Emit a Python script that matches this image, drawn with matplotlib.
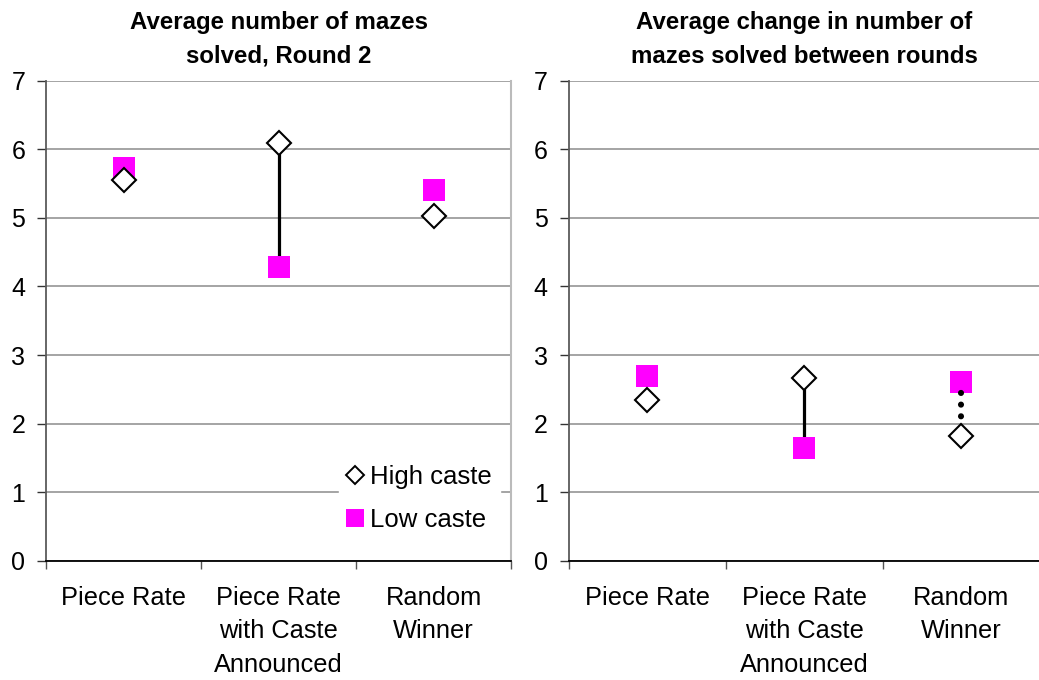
import matplotlib.pyplot as plt
from matplotlib.lines import Line2D

plt.rcParams['font.family'] = ['Liberation Sans', 'DejaVu Sans']

# Data
categories = ['Piece Rate', 'Piece Rate\nwith Caste\nAnnounced', 'Random\nWinner']
round2_high = [5.55, 6.09, 5.02]
round2_low = [5.72, 4.29, 5.40]
change_high = [2.35, 2.67, 1.82]
change_low = [2.70, 1.65, 2.61]
titles = ['Average number of mazes\nsolved, Round 2',
          'Average change in number of\nmazes solved between rounds']
yticks = [0, 1, 2, 3, 4, 5, 6, 7]

magenta = '#FF00FF'
fig = plt.figure(figsize=(10.39, 6.80), dpi=100)
ax1 = fig.add_axes([0.04475, 0.1754, 0.4471, 0.7059])
ax2 = fig.add_axes([0.5476, 0.1754, 0.4533, 0.7059])

x = list(range(len(categories)))


def style_axes(ax, title):
    ax.set_xlim(-0.5, 2.5)
    ax.set_ylim(0, 7)
    ax.set_yticks(yticks)
    ax.set_yticklabels([str(v) for v in yticks])
    ax.yaxis.grid(True, color='#8c8c8c', linewidth=1.1)
    ax.set_axisbelow(True)
    # category ticks sit between the groups, labels centred on each group
    ax.set_xticks([-0.5, 0.5, 1.5, 2.5])
    ax.set_xticklabels([])
    ax.set_xticks(x, minor=True)
    ax.set_xticklabels(categories, minor=True, fontsize=18.3, linespacing=1.5,
                       multialignment='center', va='top')
    ax.tick_params(axis='x', which='major', length=6, width=1, color='#555555')
    ax.tick_params(axis='x', which='minor', length=0, pad=18)
    ax.tick_params(axis='y', length=6.3, width=1, color='#333333', pad=9,
                   labelsize=18)
    ax.spines['left'].set_color('#5a5a5a')
    ax.spines['left'].set_linewidth(1.3)
    ax.spines['bottom'].set_color('black')
    ax.spines['bottom'].set_linewidth(1.3)
    ax.spines['top'].set_visible(False)
    ax.spines['right'].set_color('#bbbbbb')
    ax.spines['right'].set_linewidth(1.5)
    ax.set_title(title, fontsize=17.3, fontweight='bold', linespacing=1.62, pad=13)


# Left chart
ax1.plot([x[1], x[1]], [round2_high[1], round2_low[1]], color='black',
         linewidth=2.3, zorder=2, solid_capstyle='butt')
ax1.plot(x, round2_low, linestyle='none', marker='s', markersize=15.5,
         markerfacecolor=magenta, markeredgecolor=magenta, markeredgewidth=0,
         zorder=3, label='Low caste')
ax1.plot(x, round2_high, linestyle='none', marker='D', markersize=12.5,
         markerfacecolor='white', markeredgecolor='black', markeredgewidth=1.5,
         zorder=4, label='High caste')
style_axes(ax1, titles[0])

handles = [Line2D([], [], linestyle='none', marker='D', markersize=9.5,
                  markerfacecolor='white', markeredgecolor='black', markeredgewidth=1.4),
           Line2D([], [], linestyle='none', marker='s', markersize=12.5,
                  markerfacecolor=magenta, markeredgewidth=0)]
leg = ax1.legend(handles, ['High caste', 'Low caste'], loc='lower right',
                 bbox_to_anchor=(1.003, 0.016), frameon=True, fontsize=18.5,
                 handlelength=0.6, handletextpad=0.3, labelspacing=0.75,
                 borderpad=0.3, fancybox=False)
leg.get_frame().set_edgecolor('white')
leg.get_frame().set_facecolor('white')
leg.get_frame().set_alpha(1)

# Right chart
ax2.plot([x[1], x[1]], [change_high[1], change_low[1]], color='black',
         linewidth=2.3, zorder=2, solid_capstyle='butt')
ax2.plot([x[2], x[2]], [change_high[2] + 0.12, change_low[2]], color='black',
         linewidth=4.4, linestyle=(0, (0.01, 1.9)), dash_capstyle='round', zorder=5)
ax2.plot(x, change_low, linestyle='none', marker='s', markersize=15.5,
         markerfacecolor=magenta, markeredgecolor=magenta, markeredgewidth=0,
         zorder=3)
ax2.plot(x, change_high, linestyle='none', marker='D', markersize=12.5,
         markerfacecolor='white', markeredgecolor='black', markeredgewidth=1.5,
         zorder=6)
style_axes(ax2, titles[1])
ax2.spines['right'].set_visible(False)

plt.savefig('out.png', dpi=100)
